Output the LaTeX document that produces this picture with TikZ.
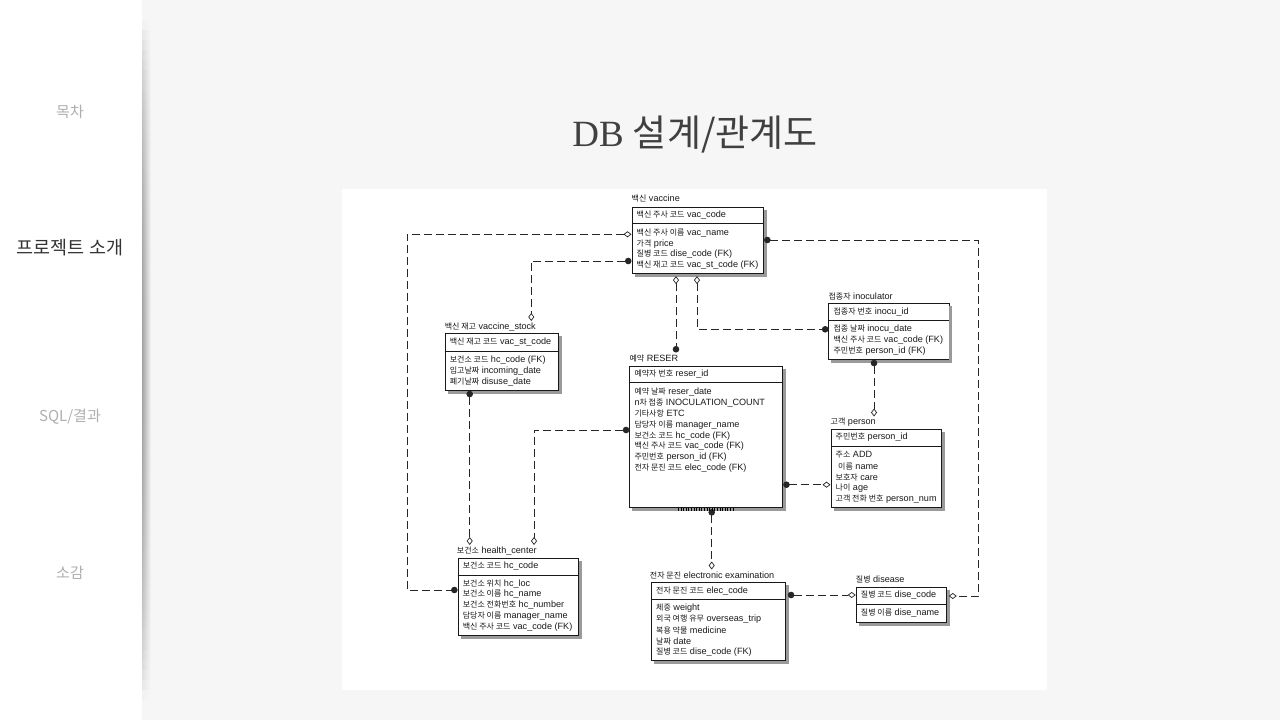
\documentclass[tikz,border=0pt]{standalone}
\usepackage{fontspec}
\setmainfont{Liberation Sans}
\newfontfamily\kr[Scale=0.88]{Noto Sans CJK KR}
\newfontfamily\krbig{Noto Sans CJK KR}
\newfontfamily\serifl{Liberation Serif}
\usetikzlibrary{arrows.meta}
\definecolor{bgc}{HTML}{F6F6F6}
\definecolor{shc}{HTML}{9A9A9A}
\definecolor{side}{HTML}{AFAFAF}
\newcommand\Kr[1]{{\kr #1}}
\newcommand\dfont{\fontsize{9.1}{10}\selectfont}
\newcommand\shad[1]{%
  \fill[shc] ([shift={(3,0)}]#1.south west) rectangle ([shift={(3,3)}]#1.south east);
  \fill[shc] ([shift={(0,3)}]#1.north east) rectangle ([shift={(3,3)}]#1.south east);}
\begin{document}
\begin{tikzpicture}[x=1pt,y=-1pt,
  ebox/.style={draw=black!90, line width=0.8pt, fill=white, anchor=north west, inner sep=0pt},
  ebline/.style={draw=black!90, line width=0.8pt},
  lbl/.style={anchor=west, inner sep=0pt, font=\dfont, text=black!90},
  rel/.style={draw=black!85, line width=0.8pt, dash pattern=on 8pt off 4pt},
  dot/.tip={Circle[length=6.5pt]},
  dia/.tip={Diamond[open, length=8pt, width=6pt, fill=white, line width=0.7pt]},
  sidebar/.style={font=\krbig\fontsize{15}{17}\selectfont, text=side}]
\useasboundingbox (0,0) rectangle (1280,720);
\fill[bgc] (0,0) rectangle (1280,720);
\fill[white] (0,0) rectangle (142,720);
\foreach \i in {0,...,67}{
  \pgfmathsetmacro\k{36*sqrt(sin(180*(\i+0.5)/68))}
  \shade[left color=black!\k, right color=bgc] (142,{20+10*\i}) rectangle (151,{30.4+10*\i});
}
\fill[white] (342,189) rectangle (1047,690);

% sidebar
\node[sidebar] (m1) at (70,112) {목차};
\node[font=\krbig\fontsize{18.5}{20}\selectfont, text=black!80] (m2) at (70,248) {프로젝트 소개};
\node[sidebar] (m3) at (70,417) {SQL/결과};
\node[sidebar] (m4) at (70,573) {소감};

% title
\node[text=black!75] (title) at (695,135) {\fontsize{37}{40}\selectfont\serifl DB \krbig 설계/관계도};

% ---------- boxes
\node[ebox, minimum width=131.8pt, minimum height=66.6pt] (vac) at (631.5,206.7) {};
\node[ebox, minimum width=113.2pt, minimum height=56.7pt] (vst) at (444.6,333.3) {};
\node[ebox, minimum width=153.1pt, minimum height=141.6pt] (res) at (629.3,365.7) {};
\node[ebox, minimum width=120.1pt, minimum height=56.3pt] (ino) at (828.4,302.7) {};
\node[ebox, minimum width=110.5pt, minimum height=78pt] (per) at (830.5,428.7) {};
\node[ebox, minimum width=120.1pt, minimum height=77.6pt] (hc) at (457.6,557.7) {};
\node[ebox, minimum width=134pt, minimum height=78.3pt] (ele) at (651,581.7) {};
\node[ebox, minimum width=90.3pt, minimum height=35pt] (dis) at (855.7,586.7) {};
\shad{vac}\shad{vst}\shad{res}\shad{ino}\shad{per}\shad{hc}\shad{ele}\shad{dis}
\draw[ebline] (vac.west |- 0,223.3) -- (vac.east |- 0,223.3);
\draw[ebline] (vst.west |- 0,351.7) -- (vst.east |- 0,351.7);
\draw[ebline] (res.west |- 0,382.7) -- (res.east |- 0,382.7);
\draw[ebline] (ino.west |- 0,320.7) -- (ino.east |- 0,320.7);
\draw[ebline] (per.west |- 0,446) -- (per.east |- 0,446);
\draw[ebline] (hc.west |- 0,575) -- (hc.east |- 0,575);
\draw[ebline] (ele.west |- 0,599.3) -- (ele.east |- 0,599.3);
\draw[ebline] (dis.west |- 0,604.3) -- (dis.east |- 0,604.3);

% ---------- vaccine
\node[lbl] (vacT) at (631.5,199) {\Kr{백신} vaccine};
\node[lbl] (vac0) at (636.5,215) {\Kr{백신 주사 코드} vac\_code};
\node[lbl] (vac1) at (636.5,232.7) {\Kr{백신 주사 이름} vac\_name};
\node[lbl] (vac2) at (636.5,243.7) {\Kr{가격} price};
\node[lbl] (vac3) at (636.5,254.3) {\Kr{질병 코드} dise\_code (FK)};
\node[lbl] (vac4) at (636.5,265.3) {\Kr{백신 재고 코드} vac\_st\_code (FK)};
% ---------- vaccine_stock
\node[lbl] (vstT) at (444.6,326.7) {\Kr{백신 재고} vaccine\_stock};
\node[lbl] (vst0) at (449.6,342.3) {\Kr{백신 재고 코드} vac\_st\_code};
\node[lbl] (vst1) at (449.6,360) {\Kr{보건소 코드} hc\_code (FK)};
\node[lbl] (vst2) at (449.6,371) {\Kr{입고날짜} incoming\_date};
\node[lbl] (vst3) at (449.6,382) {\Kr{폐기날짜} disuse\_date};
% ---------- RESER
\node[lbl] (resT) at (629.3,358.3) {\Kr{예약} RESER};
\node[lbl] (res0) at (634.3,374) {\Kr{예약자 번호} reser\_id};
\node[lbl] (res1) at (634.3,392) {\Kr{예약 날짜} reser\_date};
\node[lbl] (res2) at (634.3,402.7) {n\Kr{차 접종} INOCULATION\_COUNT};
\node[lbl] (res3) at (634.3,413.7) {\Kr{기타사항} ETC};
\node[lbl] (res4) at (634.3,424.7) {\Kr{담당자 이름} manager\_name};
\node[lbl] (res5) at (634.3,435.7) {\Kr{보건소 코드} hc\_code (FK)};
\node[lbl] (res6) at (634.3,446.3) {\Kr{백신 주사 코드} vac\_code (FK)};
\node[lbl] (res7) at (634.3,457.3) {\Kr{주민번호} person\_id (FK)};
\node[lbl] (res8) at (634.3,468) {\Kr{전자 문진 코드} elec\_code (FK)};
% ---------- inoculator
\node[lbl] (inoT) at (828.4,296) {\Kr{접종자} inoculator};
\node[lbl] (ino0) at (833.4,311.7) {\Kr{접종자 번호} inocu\_id};
\node[lbl] (ino1) at (833.4,329.3) {\Kr{접종 날짜} inocu\_date};
\node[lbl] (ino2) at (833.4,340.3) {\Kr{백신 주사 코드} vac\_code (FK)};
\node[lbl] (ino3) at (833.4,351.3) {\Kr{주민번호} person\_id (FK)};
% ---------- person
\node[lbl] (perT) at (830.5,421.7) {\Kr{고객} person};
\node[lbl] (per0) at (835.5,437.3) {\Kr{주민번호} person\_id};
\node[lbl] (per1) at (835.5,455) {\Kr{주소} ADD};
\node[lbl] (per2) at (838,466) {\Kr{이름} name};
\node[lbl] (per3) at (835.5,477) {\Kr{보호자} care};
\node[lbl] (per4) at (835.5,488) {\Kr{나이} age};
\node[lbl] (per5) at (835.5,499) {\Kr{고객 전화 번호} person\_num};
% ---------- health_center
\node[lbl] (hcT) at (456.7,550.7) {\Kr{보건소} health\_center};
\node[lbl] (hc0) at (462.6,566) {\Kr{보건소 코드} hc\_code};
\node[lbl] (hc1) at (462.6,583.7) {\Kr{보건소 위치} hc\_loc};
\node[lbl] (hc2) at (462.6,594.3) {\Kr{보건소 이름} hc\_name};
\node[lbl] (hc3) at (462.6,605.3) {\Kr{보건소 전화번호} hc\_number};
\node[lbl] (hc4) at (462.6,616.3) {\Kr{담당자 이름} manager\_name};
\node[lbl] (hc5) at (462.6,627) {\Kr{백신 주사 코드} vac\_code (FK)};
% ---------- electronic examination
\node[lbl] (eleT) at (649.7,575) {\Kr{전자 문진} electronic examination};
\node[lbl] (ele0) at (656,590.7) {\Kr{전자 문진 코드} elec\_code};
\node[lbl] (ele1) at (656,608.3) {\Kr{체중} weight};
\node[lbl] (ele2) at (656,619.3) {\Kr{외국 여행 유무} overseas\_trip};
\node[lbl] (ele3) at (656,630) {\Kr{복용 약물} medicine};
\node[lbl] (ele4) at (656,641) {\Kr{날짜} date};
\node[lbl] (ele5) at (656,652) {\Kr{질병 코드} dise\_code (FK)};
% ---------- disease
\node[lbl] (disT) at (855.7,579.3) {\Kr{질병} disease};
\node[lbl] (dis0) at (860.7,595.3) {\Kr{질병 코드} dise\_code};
\node[lbl] (dis1) at (860.7,612.7) {\Kr{질병 이름} dise\_name};

% ---------- connectors
\draw[rel, {dia}-{dot}] (vac.west |- 0,234.3) -| (406.9,590) -- (hc.west |- 0,590);
\draw[rel, {dot}-{dia}] (vac.west |- 0,261) -| (531.3,321);
\draw[rel, {dia}-{dot}] ([yshift=-2pt]vac.south -| 676,0) -- (676,352.5);
\draw[rel, {dia}-{dot}] ([yshift=-2pt]vac.south -| 697,0) |- (ino.west |- 0,329.3);
\draw[rel, {dot}-{dia}] (vac.east |- 0,240) -| (978.4,596) -- ([xshift=2pt]dis.east |- 0,596);
\draw[rel, {dot}-{dia}] (vst.south -| 469.7,0) -- (469.7,545);
\draw[rel, {dot}-{dia}] (res.west |- 0,430) -| (534,545);
\draw[rel, {dot}-{dia}] (ino.south -| 874,0) -- (874,416.5);
\draw[rel, {dot}-{dia}] (res.east |- 0,484.7) -- (per.west |- 0,484.7);
\draw[rel, {dot}-{dia}] ([yshift=-1pt]res.south -| 711.7,0) -- (711.7,569.5);
\draw[rel, {dot}-{dia}] ([xshift=2pt]ele.east |- 0,595) -- (dis.west |- 0,595);
% hatch under RESER
\draw[black, line width=3pt, dash pattern=on 1pt off 1.6pt] ([yshift=-1.8pt]res.south -| 678,0) -- ([yshift=-1.8pt]res.south -| 734,0);
\end{tikzpicture}
\end{document}
